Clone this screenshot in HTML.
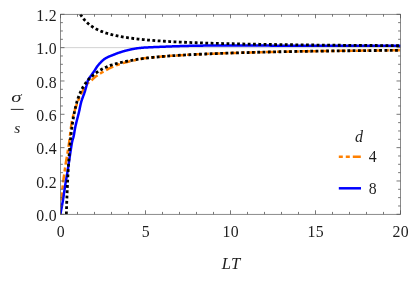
<!DOCTYPE html>
<html><head><meta charset="utf-8"><title>plot</title>
<style>
html,body{margin:0;padding:0;background:#fff;}
body{width:415px;height:286px;overflow:hidden;font-family:"Liberation Serif",serif;}
svg{display:block}
text{font-family:"Liberation Serif",serif;fill:#1e1e1e;}
</style></head><body>
<svg width="415" height="286" viewBox="0 0 415 286">
<rect width="415" height="286" fill="#fff"/>
<defs><clipPath id="c"><rect x="60.5" y="13.700000000000001" width="340.6" height="201.2"/></clipPath></defs>
<line x1="60.5" x2="400.5" y1="47.63" y2="47.63" stroke="#cdcdcd" stroke-width="0.9"/>
<g clip-path="url(#c)" fill="none" stroke-linejoin="round">
<path d="M60.40,214.30 L60.48,213.15 L60.58,211.71 L60.70,210.02 L60.83,208.13 L60.97,206.06 L61.12,203.88 L61.28,201.62 L61.45,199.32 L61.63,197.02 L61.82,194.78 L62.01,192.62 L62.20,190.60 L62.40,188.67 L62.61,186.75 L62.83,184.84 L63.05,182.94 L63.28,181.04 L63.52,179.15 L63.77,177.26 L64.03,175.36 L64.29,173.46 L64.55,171.55 L64.82,169.63 L65.10,167.70 L65.39,165.75 L65.69,163.78 L66.01,161.81 L66.33,159.82 L66.66,157.83 L66.99,155.84 L67.33,153.84 L67.66,151.86 L67.99,149.87 L68.30,147.90 L68.61,145.94 L68.90,144.00 L69.17,142.05 L69.43,140.06 L69.68,138.06 L69.92,136.05 L70.16,134.05 L70.39,132.06 L70.62,130.11 L70.86,128.21 L71.10,126.36 L71.35,124.59 L71.62,122.89 L71.90,121.30 L72.20,119.80 L72.51,118.39 L72.83,117.05 L73.16,115.77 L73.49,114.56 L73.83,113.39 L74.18,112.27 L74.52,111.18 L74.87,110.12 L75.22,109.07 L75.56,108.04 L75.90,107.00 L76.24,105.98 L76.57,105.01 L76.90,104.06 L77.23,103.15 L77.57,102.26 L77.90,101.39 L78.24,100.54 L78.58,99.71 L78.92,98.88 L79.28,98.05 L79.63,97.23 L80.00,96.40 L80.38,95.56 L80.77,94.70 L81.18,93.84 L81.60,92.99 L82.02,92.13 L82.44,91.30 L82.86,90.49 L83.27,89.70 L83.67,88.96 L84.07,88.25 L84.44,87.60 L84.80,87.00 L85.14,86.46 L85.46,85.99 L85.76,85.56 L86.05,85.17 L86.34,84.82 L86.61,84.50 L86.89,84.20 L87.16,83.92 L87.43,83.64 L87.71,83.37 L88.00,83.09 L88.30,82.80 L88.61,82.51 L88.93,82.22 L89.26,81.95 L89.59,81.69 L89.93,81.43 L90.26,81.19 L90.59,80.95 L90.91,80.71 L91.23,80.48 L91.54,80.25 L91.83,80.03 L92.10,79.80 L92.35,79.58 L92.57,79.38 L92.77,79.19 L92.95,79.00 L93.12,78.82 L93.30,78.64 L93.47,78.45 L93.66,78.27 L93.87,78.07 L94.09,77.86 L94.35,77.64 L94.65,77.40 L94.98,77.14 L95.33,76.87 L95.70,76.59 L96.08,76.30 L96.49,76.00 L96.91,75.69 L97.35,75.38 L97.79,75.07 L98.26,74.75 L98.73,74.43 L99.21,74.11 L99.70,73.80 L100.21,73.48 L100.75,73.15 L101.31,72.82 L101.89,72.48 L102.48,72.14 L103.07,71.80 L103.67,71.46 L104.26,71.13 L104.85,70.80 L105.42,70.49 L105.97,70.19 L106.50,69.90 L106.99,69.63 L107.46,69.38 L107.89,69.13 L108.31,68.90 L108.73,68.68 L109.14,68.46 L109.55,68.25 L109.99,68.03 L110.44,67.81 L110.92,67.58 L111.44,67.35 L112.00,67.10 L112.61,66.84 L113.27,66.56 L113.96,66.28 L114.68,65.99 L115.42,65.69 L116.17,65.40 L116.94,65.11 L117.70,64.82 L118.45,64.55 L119.19,64.28 L119.91,64.03 L120.60,63.80 L121.27,63.59 L121.92,63.39 L122.57,63.20 L123.20,63.02 L123.83,62.85 L124.46,62.69 L125.07,62.54 L125.69,62.39 L126.29,62.24 L126.90,62.10 L127.50,61.95 L128.10,61.80 L128.72,61.65 L129.36,61.49 L130.03,61.33 L130.70,61.18 L131.37,61.02 L132.02,60.87 L132.64,60.73 L133.23,60.60 L133.77,60.48 L134.26,60.37 L134.67,60.28 L135.00,60.20 L137.58,59.29 L139.79,58.95 L142.00,58.63 L144.20,58.33 L146.41,58.06 L148.62,57.80 L150.83,57.57 L153.03,57.34 L155.24,57.12 L157.45,56.91 L159.65,56.72 L161.86,56.53 L164.07,56.35 L166.28,56.17 L168.48,56.01 L170.70,55.85 L172.93,55.69 L175.16,55.55 L177.39,55.41 L179.62,55.27 L181.85,55.14 L184.08,55.01 L186.32,54.89 L188.55,54.77 L190.78,54.66 L193.01,54.55 L195.24,54.44 L197.47,54.34 L199.70,54.24 L201.93,54.14 L204.16,54.04 L206.39,53.94 L208.63,53.85 L210.86,53.75 L213.09,53.66 L215.32,53.58 L217.55,53.49 L219.78,53.41 L222.01,53.33 L224.24,53.25 L226.47,53.18 L228.71,53.10 L230.94,53.03 L233.17,52.96 L235.40,52.89 L237.63,52.82 L239.86,52.75 L242.09,52.69 L244.32,52.62 L246.55,52.56 L248.79,52.50 L251.02,52.44 L253.25,52.38 L255.48,52.33 L257.71,52.27 L259.94,52.22 L262.17,52.16 L264.40,52.11 L266.63,52.06 L268.87,52.01 L271.10,51.96 L273.33,51.91 L275.56,51.86 L277.79,51.81 L280.02,51.77 L282.25,51.72 L284.48,51.67 L286.71,51.63 L288.95,51.59 L291.18,51.54 L293.41,51.50 L295.64,51.46 L297.87,51.42 L300.10,51.38 L302.33,51.35 L304.56,51.31 L306.79,51.28 L309.03,51.25 L311.26,51.22 L313.49,51.19 L315.72,51.16 L317.95,51.13 L320.18,51.10 L322.41,51.07 L324.64,51.04 L326.87,51.01 L329.11,50.98 L331.34,50.96 L333.57,50.93 L335.80,50.90 L338.03,50.88 L340.26,50.85 L342.49,50.83 L344.72,50.80 L346.95,50.78 L349.18,50.75 L351.42,50.73 L353.65,50.71 L355.88,50.68 L358.11,50.66 L360.34,50.64 L362.57,50.62 L364.80,50.59 L367.03,50.57 L369.26,50.55 L371.50,50.53 L373.73,50.51 L375.96,50.49 L378.19,50.47 L380.42,50.45 L382.65,50.43 L384.88,50.41 L387.11,50.39 L389.34,50.37 L391.58,50.35 L393.81,50.34 L396.04,50.32 L398.27,50.30 L400.50,50.28" stroke="#ff8000" stroke-width="2.5" stroke-dasharray="8 3 4 3" stroke-dashoffset="4"/>
<path d="M60.40,214.30 L60.53,213.61 L60.69,212.74 L60.88,211.72 L61.09,210.58 L61.32,209.34 L61.57,208.03 L61.82,206.66 L62.07,205.27 L62.32,203.89 L62.57,202.53 L62.79,201.23 L63.00,200.00 L63.19,198.81 L63.39,197.59 L63.57,196.36 L63.76,195.13 L63.94,193.89 L64.12,192.67 L64.29,191.46 L64.46,190.29 L64.63,189.14 L64.79,188.04 L64.95,186.99 L65.10,186.00 L65.25,185.07 L65.38,184.21 L65.52,183.40 L65.64,182.63 L65.77,181.90 L65.89,181.19 L66.01,180.50 L66.12,179.81 L66.24,179.13 L66.36,178.44 L66.48,177.73 L66.60,177.00 L66.72,176.30 L66.83,175.67 L66.93,175.10 L67.02,174.56 L67.12,174.01 L67.22,173.44 L67.33,172.81 L67.44,172.11 L67.58,171.30 L67.73,170.37 L67.90,169.28 L68.10,168.00 L68.33,166.47 L68.60,164.68 L68.89,162.68 L69.20,160.52 L69.53,158.25 L69.87,155.94 L70.21,153.63 L70.54,151.37 L70.86,149.23 L71.17,147.25 L71.45,145.49 L71.70,144.00 L71.92,142.78 L72.13,141.76 L72.32,140.92 L72.49,140.22 L72.66,139.63 L72.81,139.12 L72.96,138.66 L73.11,138.22 L73.25,137.77 L73.40,137.26 L73.55,136.69 L73.70,136.00 L73.85,135.25 L73.99,134.50 L74.12,133.73 L74.25,132.96 L74.38,132.18 L74.51,131.38 L74.64,130.55 L74.78,129.70 L74.94,128.83 L75.10,127.92 L75.29,126.98 L75.50,126.00 L75.74,124.96 L76.00,123.85 L76.29,122.69 L76.59,121.48 L76.90,120.25 L77.23,119.00 L77.55,117.75 L77.87,116.52 L78.18,115.31 L78.47,114.15 L78.75,113.04 L79.00,112.00 L79.22,111.03 L79.43,110.10 L79.61,109.22 L79.78,108.37 L79.94,107.55 L80.10,106.75 L80.26,105.96 L80.42,105.19 L80.59,104.41 L80.77,103.62 L80.98,102.82 L81.20,102.00 L81.45,101.15 L81.73,100.29 L82.03,99.41 L82.34,98.52 L82.66,97.63 L82.98,96.75 L83.30,95.88 L83.62,95.04 L83.92,94.22 L84.21,93.44 L84.47,92.69 L84.70,92.00 L84.90,91.36 L85.09,90.77 L85.25,90.22 L85.40,89.70 L85.54,89.22 L85.66,88.75 L85.78,88.30 L85.90,87.85 L86.02,87.41 L86.14,86.95 L86.26,86.49 L86.40,86.00 L86.54,85.50 L86.67,84.98 L86.79,84.47 L86.91,83.95 L87.04,83.43 L87.16,82.91 L87.29,82.40 L87.43,81.90 L87.58,81.40 L87.74,80.92 L87.91,80.45 L88.10,80.00 L88.31,79.57 L88.53,79.16 L88.77,78.76 L89.01,78.38 L89.27,78.00 L89.54,77.64 L89.81,77.27 L90.09,76.91 L90.36,76.55 L90.64,76.17 L90.92,75.79 L91.20,75.40 L91.48,74.99 L91.78,74.57 L92.09,74.13 L92.40,73.69 L92.72,73.24 L93.03,72.79 L93.34,72.35 L93.64,71.93 L93.94,71.51 L94.21,71.12 L94.47,70.74 L94.70,70.40 L94.91,70.08 L95.10,69.79 L95.26,69.52 L95.42,69.27 L95.56,69.03 L95.69,68.81 L95.82,68.59 L95.95,68.37 L96.08,68.16 L96.21,67.95 L96.35,67.73 L96.50,67.50 L96.66,67.27 L96.82,67.03 L96.99,66.80 L97.15,66.57 L97.32,66.34 L97.49,66.11 L97.66,65.88 L97.83,65.66 L98.00,65.44 L98.16,65.22 L98.33,65.01 L98.50,64.80 L98.67,64.60 L98.83,64.40 L99.00,64.21 L99.17,64.02 L99.33,63.84 L99.50,63.66 L99.67,63.48 L99.83,63.30 L100.00,63.12 L100.17,62.95 L100.33,62.77 L100.50,62.60 L100.67,62.43 L100.83,62.25 L101.00,62.08 L101.17,61.90 L101.33,61.73 L101.50,61.56 L101.67,61.39 L101.83,61.23 L102.00,61.07 L102.17,60.91 L102.33,60.75 L102.50,60.60 L102.67,60.45 L102.83,60.31 L103.00,60.16 L103.17,60.02 L103.33,59.88 L103.50,59.75 L103.67,59.62 L103.83,59.49 L104.00,59.36 L104.17,59.24 L104.33,59.12 L104.50,59.00 L104.67,58.89 L104.83,58.77 L105.00,58.67 L105.17,58.56 L105.33,58.46 L105.50,58.36 L105.67,58.27 L105.83,58.17 L106.00,58.08 L106.17,57.98 L106.33,57.89 L106.50,57.80 L106.67,57.71 L106.83,57.62 L107.00,57.53 L107.17,57.45 L107.33,57.36 L107.50,57.28 L107.67,57.20 L107.83,57.11 L108.00,57.03 L108.17,56.96 L108.33,56.88 L108.50,56.80 L108.67,56.72 L108.83,56.65 L109.00,56.57 L109.17,56.50 L109.33,56.43 L109.50,56.36 L109.67,56.29 L109.83,56.22 L110.00,56.15 L110.17,56.08 L110.33,56.02 L110.50,55.95 L110.67,55.88 L110.83,55.82 L111.00,55.76 L111.17,55.69 L111.33,55.63 L111.50,55.57 L111.67,55.51 L111.83,55.45 L112.00,55.39 L112.17,55.33 L112.33,55.26 L112.50,55.20 L112.67,55.14 L112.83,55.07 L113.00,55.00 L113.17,54.94 L113.33,54.87 L113.50,54.80 L113.67,54.74 L113.83,54.67 L114.00,54.60 L114.17,54.53 L114.33,54.47 L114.50,54.40 L114.66,54.34 L114.81,54.27 L114.95,54.21 L115.09,54.16 L115.23,54.10 L115.38,54.04 L115.52,53.98 L115.69,53.91 L115.86,53.84 L116.05,53.77 L116.26,53.69 L116.50,53.60 L116.76,53.50 L117.05,53.40 L117.35,53.29 L117.67,53.17 L118.01,53.05 L118.36,52.93 L118.71,52.81 L119.07,52.68 L119.43,52.56 L119.79,52.43 L120.15,52.32 L120.50,52.20 L120.85,52.09 L121.21,51.97 L121.57,51.86 L121.93,51.74 L122.30,51.63 L122.67,51.52 L123.04,51.41 L123.40,51.30 L123.76,51.19 L124.11,51.09 L124.46,50.99 L124.80,50.90 L125.13,50.81 L125.45,50.73 L125.77,50.64 L126.09,50.57 L126.39,50.49 L126.70,50.42 L127.00,50.35 L127.30,50.28 L127.60,50.21 L127.90,50.14 L128.20,50.07 L128.50,50.00 L128.79,49.93 L129.07,49.86 L129.33,49.80 L129.59,49.73 L129.85,49.67 L130.11,49.61 L130.37,49.54 L130.66,49.48 L130.95,49.41 L131.27,49.34 L131.62,49.27 L132.00,49.20 L132.41,49.12 L132.84,49.04 L133.28,48.96 L133.75,48.87 L134.24,48.78 L134.74,48.69 L135.25,48.61 L135.78,48.52 L136.32,48.43 L136.87,48.35 L137.43,48.27 L138.00,48.20 L138.56,48.13 L139.11,48.07 L139.65,48.00 L140.20,47.94 L140.75,47.88 L141.33,47.83 L141.94,47.77 L142.58,47.72 L143.27,47.66 L144.02,47.61 L144.82,47.56 L145.70,47.50 L146.67,47.44 L147.75,47.39 L148.91,47.33 L150.14,47.27 L151.41,47.21 L152.71,47.16 L154.01,47.10 L155.31,47.05 L156.57,46.99 L157.79,46.94 L158.94,46.90 L160.00,46.85 L160.98,46.81 L161.92,46.77 L162.80,46.73 L163.65,46.70 L164.47,46.66 L165.27,46.63 L166.05,46.60 L166.83,46.57 L167.60,46.54 L168.38,46.51 L169.18,46.48 L170.00,46.45 L170.83,46.42 L171.67,46.39 L172.50,46.36 L173.33,46.33 L174.17,46.30 L175.00,46.27 L175.83,46.24 L176.67,46.21 L177.50,46.18 L178.33,46.15 L179.17,46.13 L180.00,46.10 L180.83,46.08 L181.67,46.05 L182.50,46.03 L183.33,46.01 L184.17,45.99 L185.00,45.97 L185.83,45.95 L186.67,45.93 L187.50,45.91 L188.33,45.89 L189.17,45.87 L190.00,45.85 L190.80,45.83 L191.55,45.81 L192.27,45.79 L192.96,45.78 L193.66,45.76 L194.38,45.74 L195.12,45.72 L195.93,45.71 L196.80,45.69 L197.75,45.68 L198.82,45.66 L200.00,45.65 L201.25,45.64 L202.52,45.63 L203.83,45.61 L205.19,45.60 L206.61,45.59 L208.12,45.58 L209.74,45.58 L211.48,45.57 L213.36,45.56 L215.39,45.56 L217.60,45.55 L220.00,45.55 L222.63,45.55 L225.51,45.55 L228.59,45.55 L231.85,45.55 L235.25,45.56 L238.75,45.56 L242.32,45.57 L245.93,45.57 L249.53,45.58 L253.10,45.59 L256.60,45.59 L260.00,45.60 L263.14,45.61 L265.97,45.61 L268.58,45.62 L271.09,45.63 L273.60,45.64 L276.22,45.65 L279.04,45.66 L282.19,45.67 L285.75,45.68 L289.83,45.69 L294.55,45.69 L300.00,45.70 L306.58,45.71 L314.41,45.71 L323.23,45.72 L332.74,45.72 L342.68,45.73 L352.75,45.73 L362.69,45.74 L372.20,45.74 L381.02,45.74 L388.87,45.75 L395.45,45.75 L400.50,45.75" stroke="#0000ff" stroke-width="2.5"/>
<path d="M80.47,14.30 L81.00,15.16 L81.53,15.97 L82.05,16.74 L82.58,17.48 L83.10,18.18 L83.63,18.85 L84.16,19.49 L84.68,20.10 L85.21,20.68 L85.73,21.25 L86.26,21.79 L86.79,22.30 L87.31,22.80 L87.84,23.28 L88.36,23.74 L88.89,24.18 L89.41,24.61 L89.94,25.02 L90.47,25.41 L90.99,25.80 L91.52,26.17 L92.04,26.53 L92.57,26.87 L93.10,27.21 L93.62,27.53 L94.15,27.84 L94.67,28.15 L95.20,28.44 L95.72,28.73 L96.25,29.01 L96.78,29.28 L97.30,29.54 L97.83,29.80 L98.35,30.04 L98.88,30.28 L99.41,30.52 L99.93,30.75 L100.46,30.97 L100.98,31.19 L101.51,31.40 L102.03,31.60 L102.56,31.80 L103.09,32.00 L103.61,32.19 L104.14,32.38 L104.66,32.56 L105.19,32.73 L105.72,32.91 L106.24,33.08 L106.77,33.24 L107.29,33.40 L107.82,33.56 L108.34,33.72 L108.87,33.87 L109.40,34.02 L109.92,34.16 L110.45,34.30 L110.97,34.44 L111.50,34.58 L113.93,35.17 L116.36,35.71 L118.79,36.21 L121.21,36.67 L123.64,37.09 L126.07,37.48 L128.50,37.84 L130.93,38.18 L133.36,38.49 L135.79,38.79 L138.21,39.07 L140.64,39.33 L143.07,39.57 L145.50,39.80 L147.93,40.02 L150.36,40.22 L152.79,40.42 L155.21,40.60 L157.64,40.78 L160.07,40.95 L162.50,41.11 L164.93,41.26 L167.36,41.40 L169.79,41.54 L172.21,41.67 L174.64,41.80 L177.07,41.92 L179.50,42.04 L181.93,42.15 L184.36,42.26 L186.79,42.36 L189.21,42.46 L191.64,42.56 L194.07,42.65 L196.50,42.74 L198.93,42.82 L201.36,42.91 L203.79,42.99 L206.21,43.06 L208.64,43.14 L211.07,43.21 L213.50,43.28 L215.93,43.35 L218.36,43.42 L220.79,43.48 L223.21,43.54 L225.64,43.60 L228.07,43.66 L230.50,43.72 L232.93,43.77 L235.36,43.83 L237.79,43.88 L240.21,43.93 L242.64,43.98 L245.07,44.03 L247.50,44.07 L249.93,44.12 L252.36,44.16 L254.79,44.21 L257.21,44.25 L259.64,44.29 L262.07,44.33 L264.50,44.37 L266.93,44.41 L269.36,44.45 L271.79,44.48 L274.21,44.52 L276.64,44.55 L279.07,44.59 L281.50,44.62 L283.93,44.65 L286.36,44.69 L288.79,44.72 L291.21,44.75 L293.64,44.78 L296.07,44.81 L298.50,44.84 L300.93,44.86 L303.36,44.89 L305.79,44.92 L308.21,44.95 L310.64,44.97 L313.07,45.00 L315.50,45.02 L317.93,45.05 L320.36,45.07 L322.79,45.09 L325.21,45.12 L327.64,45.14 L330.07,45.16 L332.50,45.19 L334.93,45.21 L337.36,45.23 L339.79,45.25 L342.21,45.27 L344.64,45.29 L347.07,45.31 L349.50,45.33 L351.93,45.35 L354.36,45.37 L356.79,45.39 L359.21,45.40 L361.64,45.42 L364.07,45.44 L366.50,45.46 L368.93,45.47 L371.36,45.49 L373.79,45.51 L376.21,45.52 L378.64,45.54 L381.07,45.56 L383.50,45.57 L385.93,45.59 L388.36,45.60 L390.79,45.62 L393.21,45.63 L395.64,45.65 L398.07,45.66 L400.50,45.68" stroke="#000" stroke-width="2.8" stroke-dasharray="2.8 2.5"/>
<path d="M66.35,214.30 L66.50,209.52 L66.65,205.00 L66.80,200.73 L66.95,196.69 L67.10,192.85 L67.25,189.21 L67.40,185.75 L67.56,182.45 L67.71,179.30 L67.86,176.30 L68.01,173.43 L68.16,170.69 L68.31,168.06 L68.46,165.54 L68.61,163.13 L68.76,160.81 L68.91,158.59 L69.06,156.45 L69.21,154.39 L69.36,152.41 L69.51,150.50 L69.66,148.66 L69.81,146.88 L69.97,145.16 L70.12,143.51 L70.27,141.91 L70.42,140.36 L70.57,138.86 L70.72,137.41 L70.87,136.00 L71.02,134.64 L71.17,133.32 L71.32,132.04 L71.47,130.79 L71.62,129.58 L71.77,128.41 L71.92,127.27 L72.07,126.16 L72.22,125.08 L72.38,124.04 L72.53,123.02 L72.68,122.02 L72.83,121.05 L72.98,120.11 L73.13,119.19 L73.28,118.30 L73.43,117.42 L73.58,116.57 L73.73,115.74 L73.88,114.92 L74.03,114.13 L74.18,113.36 L74.33,112.60 L74.48,111.86 L74.63,111.14 L74.79,110.43 L74.94,109.74 L75.09,109.06 L75.24,108.40 L75.39,107.76 L75.54,107.12 L75.69,106.50 L75.84,105.89 L75.99,105.30 L76.14,104.71 L76.29,104.14 L76.44,103.58 L76.59,103.03 L76.74,102.49 L76.89,101.97 L77.04,101.45 L77.20,100.94 L77.35,100.44 L77.50,99.95 L77.65,99.47 L77.80,99.00 L77.95,98.54 L78.10,98.09 L78.25,97.65 L78.90,95.88 L79.54,94.24 L80.19,92.71 L80.83,91.28 L81.48,89.95 L82.12,88.71 L82.77,87.54 L83.41,86.45 L84.06,85.42 L84.71,84.45 L85.35,83.52 L86.00,82.64 L86.64,81.80 L87.29,81.01 L87.93,80.26 L88.58,79.54 L89.22,78.86 L89.87,78.21 L90.52,77.59 L91.16,77.00 L91.81,76.44 L92.45,75.86 L93.10,75.28 L93.74,74.73 L94.39,74.19 L95.03,73.68 L95.68,73.18 L96.33,72.70 L96.97,72.24 L97.62,71.80 L98.26,71.36 L98.91,70.95 L99.55,70.54 L100.20,70.15 L100.84,69.78 L101.48,69.43 L102.12,69.08 L102.76,68.74 L103.40,68.42 L104.04,68.10 L104.68,67.79 L105.31,67.50 L105.95,67.20 L106.59,66.92 L107.23,66.65 L107.87,66.38 L108.51,66.12 L109.15,65.86 L109.79,65.62 L110.42,65.39 L111.06,65.17 L111.70,64.96 L112.34,64.76 L112.98,64.56 L113.62,64.37 L114.26,64.18 L114.89,64.00 L115.53,63.82 L116.17,63.65 L116.81,63.48 L117.45,63.31 L118.09,63.15 L118.73,62.99 L119.36,62.83 L120.00,62.68 L120.64,62.54 L121.28,62.39 L121.92,62.25 L122.56,62.11 L123.20,61.98 L123.84,61.85 L124.47,61.72 L125.11,61.59 L125.75,61.45 L126.39,61.31 L127.03,61.18 L127.67,61.05 L128.31,60.92 L128.94,60.79 L131.66,60.28 L134.38,59.80 L137.10,59.36 L139.82,58.95 L142.53,58.56 L145.25,58.19 L147.97,57.88 L150.69,57.58 L153.41,57.30 L156.13,57.04 L158.84,56.79 L161.56,56.55 L164.28,56.33 L167.00,56.12 L169.72,55.92 L172.46,55.73 L175.21,55.54 L177.95,55.37 L180.70,55.20 L183.45,55.05 L186.20,54.90 L188.94,54.75 L191.69,54.61 L194.44,54.48 L197.19,54.35 L199.93,54.23 L202.68,54.10 L205.43,53.98 L208.18,53.86 L210.92,53.75 L213.67,53.64 L216.42,53.54 L219.17,53.43 L221.91,53.33 L224.66,53.24 L227.41,53.14 L230.16,53.05 L232.90,52.96 L235.65,52.88 L238.40,52.80 L241.15,52.72 L243.89,52.64 L246.64,52.56 L249.39,52.49 L252.14,52.41 L254.88,52.34 L257.63,52.27 L260.38,52.20 L263.13,52.14 L265.87,52.07 L268.62,52.01 L271.37,51.95 L274.12,51.89 L276.86,51.83 L279.61,51.77 L282.36,51.72 L285.11,51.66 L287.85,51.61 L290.60,51.56 L293.35,51.50 L296.10,51.45 L298.84,51.40 L301.59,51.36 L304.34,51.32 L307.09,51.28 L309.83,51.24 L312.58,51.20 L315.33,51.16 L318.08,51.12 L320.82,51.09 L323.57,51.05 L326.32,51.02 L329.07,50.98 L331.81,50.95 L334.56,50.92 L337.31,50.89 L340.06,50.85 L342.80,50.82 L345.55,50.79 L348.30,50.76 L351.05,50.73 L353.79,50.70 L356.54,50.68 L359.29,50.65 L362.04,50.62 L364.78,50.59 L367.53,50.57 L370.28,50.54 L373.03,50.52 L375.77,50.49 L378.52,50.47 L381.27,50.44 L384.02,50.42 L386.76,50.40 L389.51,50.37 L392.26,50.35 L395.01,50.33 L397.75,50.30 L400.50,50.28" stroke="#000" stroke-width="2.8" stroke-dasharray="2.8 2.5"/>
</g>
<rect x="60.5" y="14.3" width="340.0" height="200.0" fill="none" stroke="#5a5a5a" stroke-width="0.7"/>
<path d="M60.50,214.3 v-4.0 M60.50,14.3 v4.0 M77.50,214.3 v-2.4 M77.50,14.3 v2.4 M94.50,214.3 v-2.4 M94.50,14.3 v2.4 M111.50,214.3 v-2.4 M111.50,14.3 v2.4 M128.50,214.3 v-2.4 M128.50,14.3 v2.4 M145.50,214.3 v-4.0 M145.50,14.3 v4.0 M162.50,214.3 v-2.4 M162.50,14.3 v2.4 M179.50,214.3 v-2.4 M179.50,14.3 v2.4 M196.50,214.3 v-2.4 M196.50,14.3 v2.4 M213.50,214.3 v-2.4 M213.50,14.3 v2.4 M230.50,214.3 v-4.0 M230.50,14.3 v4.0 M247.50,214.3 v-2.4 M247.50,14.3 v2.4 M264.50,214.3 v-2.4 M264.50,14.3 v2.4 M281.50,214.3 v-2.4 M281.50,14.3 v2.4 M298.50,214.3 v-2.4 M298.50,14.3 v2.4 M315.50,214.3 v-4.0 M315.50,14.3 v4.0 M332.50,214.3 v-2.4 M332.50,14.3 v2.4 M349.50,214.3 v-2.4 M349.50,14.3 v2.4 M366.50,214.3 v-2.4 M366.50,14.3 v2.4 M383.50,214.3 v-2.4 M383.50,14.3 v2.4 M400.50,214.3 v-4.0 M400.50,14.3 v4.0 M60.5,214.30 h4.0 M400.5,214.30 h-4.0 M60.5,205.97 h2.4 M400.5,205.97 h-2.4 M60.5,197.63 h2.4 M400.5,197.63 h-2.4 M60.5,189.30 h2.4 M400.5,189.30 h-2.4 M60.5,180.97 h4.0 M400.5,180.97 h-4.0 M60.5,172.63 h2.4 M400.5,172.63 h-2.4 M60.5,164.30 h2.4 M400.5,164.30 h-2.4 M60.5,155.97 h2.4 M400.5,155.97 h-2.4 M60.5,147.63 h4.0 M400.5,147.63 h-4.0 M60.5,139.30 h2.4 M400.5,139.30 h-2.4 M60.5,130.97 h2.4 M400.5,130.97 h-2.4 M60.5,122.63 h2.4 M400.5,122.63 h-2.4 M60.5,114.30 h4.0 M400.5,114.30 h-4.0 M60.5,105.97 h2.4 M400.5,105.97 h-2.4 M60.5,97.63 h2.4 M400.5,97.63 h-2.4 M60.5,89.30 h2.4 M400.5,89.30 h-2.4 M60.5,80.97 h4.0 M400.5,80.97 h-4.0 M60.5,72.63 h2.4 M400.5,72.63 h-2.4 M60.5,64.30 h2.4 M400.5,64.30 h-2.4 M60.5,55.97 h2.4 M400.5,55.97 h-2.4 M60.5,47.63 h4.0 M400.5,47.63 h-4.0 M60.5,39.30 h2.4 M400.5,39.30 h-2.4 M60.5,30.97 h2.4 M400.5,30.97 h-2.4 M60.5,22.63 h2.4 M400.5,22.63 h-2.4 M60.5,14.30 h4.0 M400.5,14.30 h-4.0" stroke="#555" stroke-width="0.8" fill="none"/>
<g font-size="15.8px" letter-spacing="0.35" style="filter:grayscale(1)"><text x="57.1" y="220.90"  text-anchor="end">0.0</text><text x="57.1" y="187.57"  text-anchor="end">0.2</text><text x="57.1" y="154.23"  text-anchor="end">0.4</text><text x="57.1" y="120.90"  text-anchor="end">0.6</text><text x="57.1" y="87.57"  text-anchor="end">0.8</text><text x="57.1" y="54.23"  text-anchor="end">1.0</text><text x="57.1" y="20.90"  text-anchor="end">1.2</text><text x="60.80" y="237.2" text-anchor="middle">0</text><text x="145.80" y="237.2" text-anchor="middle">5</text><text x="230.80" y="237.2" text-anchor="middle">10</text><text x="315.80" y="237.2" text-anchor="middle">15</text><text x="400.80" y="237.2" text-anchor="middle">20</text>
<text x="368.8" y="162">4</text><text x="368.8" y="193.6">8</text></g>
<g font-size="16px" font-style="italic" style="filter:grayscale(1)">
<text x="231.2" y="269" text-anchor="middle" font-size="16.6px" letter-spacing="0.3">LT</text>
<text x="359" y="142.3" text-anchor="middle">d</text>
<text transform="translate(16.4,102) scale(1.35,1)" text-anchor="middle" font-size="15.5px">σ</text>
<text x="17.2" y="132.5" text-anchor="middle" font-size="15.5px">s</text>
</g>
<line x1="10.8" x2="23.6" y1="109.4" y2="109.4" stroke="#111" stroke-width="0.9"/>
<path d="M338.8,156.8 H361" stroke="#ff8000" stroke-width="2.5" stroke-dasharray="8 3 4 3" stroke-dashoffset="4" fill="none"/>
<path d="M338.8,188.3 H361" stroke="#0000ff" stroke-width="2.5" fill="none"/>
</svg>
</body></html>
